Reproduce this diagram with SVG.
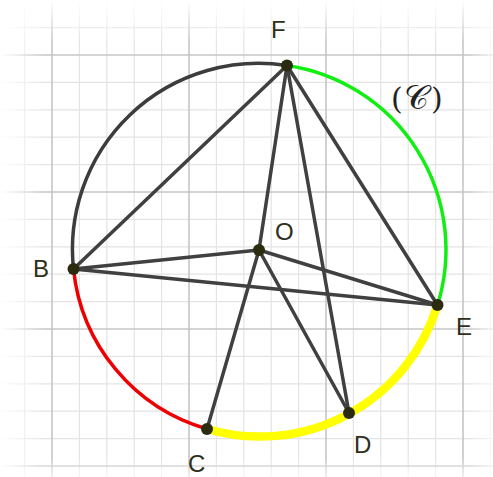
<svg xmlns="http://www.w3.org/2000/svg" width="493" height="477" viewBox="0 0 493 477">
<style>
.minor{stroke:#e4e4e4;stroke-width:1.2;fill:none}
.major{stroke:#c6c6c6;stroke-width:1.6;fill:none}
.seg{stroke:#404040;stroke-width:3.5;stroke-linecap:round;fill:none}
.arc{fill:none;stroke-width:3.5}
.thick{stroke-width:8.5}
.pt{fill:#2b2b10}
.lbl{font-family:"Liberation Sans",Arial,sans-serif;font-size:24px;fill:#2e2e1a}
.cl{font-family:"DejaVu Serif","Liberation Serif",serif;font-size:30px;fill:#222}
</style>
<defs>
<linearGradient id="gx" x1="0" y1="0" x2="493" y2="0" gradientUnits="userSpaceOnUse">
<stop offset="0" stop-color="#fff" stop-opacity="0"/>
<stop offset="0.09" stop-color="#fff" stop-opacity="1"/>
<stop offset="0.95" stop-color="#fff" stop-opacity="1"/>
<stop offset="1" stop-color="#fff" stop-opacity="0.3"/>
</linearGradient>
<linearGradient id="gy" x1="0" y1="0" x2="0" y2="477" gradientUnits="userSpaceOnUse">
<stop offset="0" stop-color="#fff" stop-opacity="0"/>
<stop offset="0.09" stop-color="#fff" stop-opacity="1"/>
<stop offset="0.96" stop-color="#fff" stop-opacity="1"/>
<stop offset="1" stop-color="#fff" stop-opacity="0.3"/>
</linearGradient>
<mask id="mx"><rect x="0" y="0" width="493" height="477" fill="url(#gx)"/></mask>
<mask id="my"><rect x="0" y="0" width="493" height="477" fill="url(#gy)"/></mask>
</defs>
<rect x="0" y="0" width="493" height="477" fill="#fff"/>
<g id="grid" mask="url(#mx)">
<g mask="url(#my)">
<path class="minor" d="M24.6 0V477M79.4 0V477M106.8 0V477M134.2 0V477M161.6 0V477M216.4 0V477M243.8 0V477M271.2 0V477M298.6 0V477M353.4 0V477M380.8 0V477M408.2 0V477M435.6 0V477M490.4 0V477M0 27.6H493M0 82.4H493M0 109.8H493M0 137.2H493M0 164.6H493M0 219.4H493M0 246.8H493M0 274.2H493M0 301.6H493M0 356.4H493M0 383.8H493M0 411.2H493M0 438.6H493"/>
<path class="major" d="M52 0V477M189 0V477M326 0V477M463 0V477M0 55H493M0 192H493M0 329H493M0 466H493"/>
</g>
</g>
<g id="circle">
<path class="arc" stroke="#3c3c3c" d="M287 65.5A186 186 0 0 0 73.5 269"/>
<path class="arc" stroke="#ee0000" d="M73.5 269A186 186 0 0 0 207 429"/>
<path class="arc thick" stroke="#ffff00" d="M207 429A186 186 0 0 0 437.5 305"/>
<path class="arc" stroke="#11ee11" d="M437.5 305A186 186 0 0 0 287 65.5"/>
</g>
<g id="connectors">
<line class="seg" x1="287" y1="65.5" x2="73.5" y2="269"/>
<line class="seg" x1="287" y1="65.5" x2="259" y2="250"/>
<line class="seg" x1="287" y1="65.5" x2="349" y2="413"/>
<line class="seg" x1="287" y1="65.5" x2="437.5" y2="305"/>
<line class="seg" x1="73.5" y1="269" x2="259" y2="250"/>
<line class="seg" x1="73.5" y1="269" x2="437.5" y2="305"/>
<line class="seg" x1="259" y1="250" x2="437.5" y2="305"/>
<line class="seg" x1="259" y1="250" x2="207" y2="429"/>
<line class="seg" x1="259" y1="250" x2="349" y2="413"/>
</g>
<g id="F"><circle class="pt" cx="287" cy="65.5" r="6"/><text class="lbl" x="271" y="38">F</text></g>
<g id="O"><circle class="pt" cx="259" cy="250" r="6"/><text class="lbl" x="275" y="240">O</text></g>
<g id="B"><circle class="pt" cx="73.5" cy="269" r="6"/><text class="lbl" x="33" y="277">B</text></g>
<g id="C"><circle class="pt" cx="207" cy="429" r="6"/><text class="lbl" x="188" y="472">C</text></g>
<g id="D"><circle class="pt" cx="349" cy="413" r="6"/><text class="lbl" x="354" y="453">D</text></g>
<g id="E"><circle class="pt" cx="437.5" cy="305" r="6"/><text class="lbl" x="456" y="335">E</text></g>
<g id="label-C"><text class="cl" y="109"><tspan x="391">(</tspan><tspan x="404" font-size="34">𝒞</tspan><tspan x="431">)</tspan></text></g>
</svg>
